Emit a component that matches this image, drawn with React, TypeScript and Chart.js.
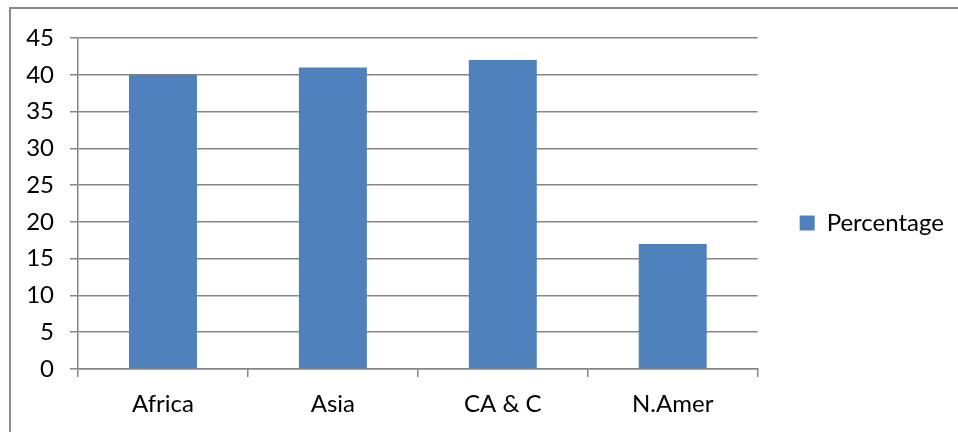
import React, { useEffect, useRef } from "react";
import { Chart, registerables } from "chart.js";

Chart.register(...registerables);

const categories = ["Africa", "Asia", "CA & C", "N.Amer"];
const percentage = [40, 41, 42, 17];
const seriesName = "Percentage";
const yMin = 0;
const yMax = 45;
const yStep = 5;

const legendShift = {
  id: "legendShift",
  afterLayout(chart: any) {
    if (chart.legend) {
      chart.legend.bottom -= 24;
      chart.legend.height -= 24;
    }
  },
};

export default function App() {
  const ref = useRef<HTMLCanvasElement | null>(null);
  useEffect(() => {
    if (!ref.current) return;
    const font = { family: "Lato, 'Open Sans', sans-serif", size: 24 };
    const chart = new Chart(ref.current, {
      type: "bar",
      data: {
        labels: categories,
        datasets: [
          {
            label: seriesName,
            data: percentage,
            backgroundColor: "#4F81BD",
            borderWidth: 0,
            categoryPercentage: 1,
            barPercentage: 0.4,
          },
        ],
      },
      options: {
        responsive: false,
        animation: false,
        layout: { padding: { left: 0, top: 38, right: 4, bottom: 0 } },
        plugins: {
          tooltip: { enabled: false },
          legend: {
            position: "right",
            labels: {
              font,
              color: "#000",
              boxWidth: 15,
              boxHeight: 15,
              padding: 42,
            },
          },
        },
        scales: {
          x: {
            offset: true,
            grid: {
              offset: true,
              drawOnChartArea: false,
              drawTicks: true,
              tickLength: 8,
              color: "#868686",
              lineWidth: 1.5,
            },
            border: { color: "#868686", width: 1.5 },
            ticks: { font, color: "#000", padding: 13 },
            afterFit: (s: any) => {
              s.height = 63;
            },
          },
          y: {
            min: yMin,
            max: yMax,
            ticks: { stepSize: yStep, font, color: "#000", padding: 16 },
            grid: {
              color: "#868686",
              lineWidth: 1.5,
              tickLength: 8,
            },
            border: { color: "#868686", width: 1.5 },
            afterFit: (s: any) => {
              s.width = 78;
            },
          },
        },
      },
      plugins: [legendShift],
    });
    return () => chart.destroy();
  }, []);
  return (
    <div
      style={{
        position: "fixed",
        left: 0,
        top: 0,
        width: 958,
        height: 432,
        background: "#fff",
        overflow: "hidden",
      }}
    >
      <div
        style={{
          position: "absolute",
          left: 9,
          top: 7,
          width: 1000,
          height: 500,
          border: "2px solid #8a8a8a",
          boxSizing: "border-box",
        }}
      />
      <canvas
        ref={ref}
        width={958}
        height={432}
        style={{ position: "absolute", left: 0, top: 0 }}
      />
    </div>
  );
}
